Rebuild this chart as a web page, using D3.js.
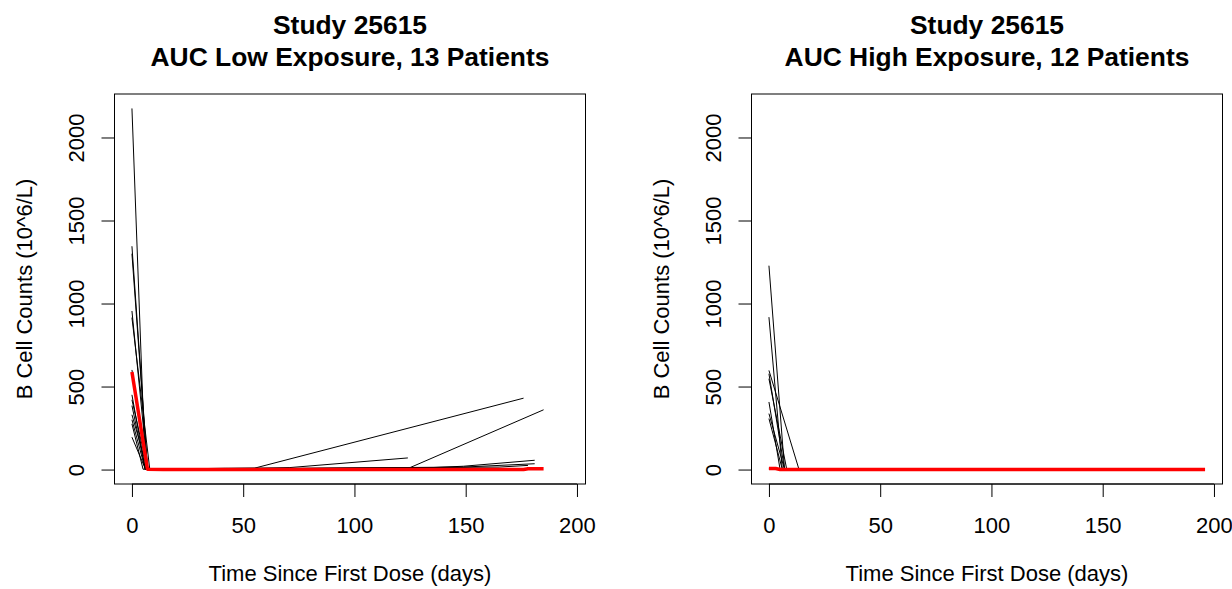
<!DOCTYPE html>
<html>
<head>
<meta charset="utf-8">
<script src="https://cdn.jsdelivr.net/npm/d3@7/dist/d3.min.js"></script>
<style>
  html, body { margin: 0; padding: 0; background: #fff; }
  svg { display: block; }
  text { font-family: "Liberation Sans", Arial, sans-serif; fill: #000; }
</style>
</head>
<body>
<svg id="chart" width="1232" height="589"></svg>
<script>
// ---------------- DATA ----------------
const studyTitle = "Study 25615";
const panelTitles = ["AUC Low Exposure, 13 Patients", "AUC High Exposure, 12 Patients"];
const xLabel = "Time Since First Dose (days)";
const yLabel = "B Cell Counts (10^6/L)";
const xTicks = [0, 50, 100, 150, 200];
const yTicks = [0, 500, 1000, 1500, 2000];
const xMax = 196;
const yMax = 2175;

// Low exposure patients: [day, count]
const low01 = [[0, 2175], [6, 2], [14, 1], [42, 2]];
const low02 = [[0, 1345], [7, 3], [14, 1]];
const low03 = [[0, 1300], [7, 3], [14, 2], [42, 8], [55, 8], [176, 430]];
const low04 = [[0, 955], [7, 4], [14, 1]];
const low05 = [[0, 915], [8, 3], [14, 1], [42, 6], [71, 12], [124, 70]];
const low06 = [[0, 600], [7, 2], [14, 1], [124, 6], [185, 360]];
const low07 = [[0, 450], [6, 3], [14, 1], [135, 12], [149, 20], [181, 56]];
const low08 = [[0, 385], [6, 2], [14, 1], [149, 15], [181, 35]];
const low09 = [[0, 330], [7, 1], [14, 2]];
const low10 = [[0, 300], [6, 1], [14, 1], [165, 15], [178, 25]];
const low11 = [[0, 275], [5, 2], [14, 1]];
const low12 = [[0, 195], [6, 5], [14, 2]];
const low13 = [[0, 420], [7, 3], [14, 1]];
const lowSummary = [[0, 587], [7, 2], [14, 1], [42, 0], [84, 0], [124, 0], [176, 0], [178, 5], [185, 5]];

// High exposure patients: [day, count]
const high01 = [[0, 1228], [7, 2], [14, 0]];
const high02 = [[0, 918], [6, 1], [14, 0]];
const high03 = [[0, 597], [13.5, 1], [21, 0]];
const high04 = [[0, 577], [7, 2]];
const high05 = [[0, 547], [8, 1]];
const high06 = [[0, 407], [5, 1]];
const high07 = [[0, 337], [7, 1]];
const high08 = [[0, 307], [6, 2]];
const high09 = [[0, 10], [7, 0]];
const high10 = [[0, 5], [7, 0]];
const high11 = [[0, 3], [14, 0]];
const high12 = [[0, 2], [7, 0]];
const highSummary = [[0, 6], [3, 6], [5, 0], [14, 0], [56, 0], [112, 0], [168, 0], [196, 0]];

const lowPatients = [low01, low02, low03, low04, low05, low06, low07, low08, low09, low10, low11, low12, low13];
const highPatients = [high01, high02, high03, high04, high05, high06, high07, high08, high09, high10, high11, high12];

// ---------------- LAYOUT ----------------
const svg = d3.select("#chart");
const panels = [
  { left: 114.5, right: 585.5, title: panelTitles[0], patients: lowPatients, summary: lowSummary },
  { left: 751.5, right: 1222.5, title: panelTitles[1], patients: highPatients, summary: highSummary }
];
const boxTop = 94, boxBottom = 484;
const fontBase = 22;
const tickLen = 13;

panels.forEach(p => {
  const x = d3.scaleLinear().domain([-0.04 * xMax, 1.04 * xMax]).range([p.left, p.right]);
  const y = d3.scaleLinear().domain([-0.04 * yMax, 1.04 * yMax]).range([boxBottom, boxTop]);
  const g = svg.append("g");

  const line = d3.line().x(d => x(d[0])).y(d => y(d[1]));

  // patient lines
  g.selectAll("path.pt").data(p.patients).join("path")
    .attr("class", "pt")
    .attr("d", line)
    .attr("fill", "none")
    .attr("stroke", "#000")
    .attr("stroke-width", 1);

  // summary red line
  g.append("path")
    .attr("d", line(p.summary))
    .attr("fill", "none")
    .attr("stroke", "#ff0000")
    .attr("stroke-width", 3.5)
    .attr("stroke-linejoin", "round");

  // box
  g.append("rect")
    .attr("x", p.left).attr("y", boxTop)
    .attr("width", p.right - p.left).attr("height", boxBottom - boxTop)
    .attr("fill", "none").attr("stroke", "#000").attr("stroke-width", 1);

  // x axis
  const xAxis = d3.axisBottom(x).tickValues(xTicks).tickSize(tickLen).tickFormat(d3.format("d"));
  const gx = g.append("g").attr("transform", `translate(0,${boxBottom})`).call(xAxis);
  gx.select(".domain").attr("d", `M${x(xTicks[0])},0H${x(xTicks[xTicks.length - 1])}`);
  gx.selectAll("text").attr("font-size", fontBase).attr("font-family", "Liberation Sans, Arial, sans-serif")
    .attr("dy", null).attr("y", 49);

  // y axis
  const yAxis = d3.axisLeft(y).tickValues(yTicks).tickSize(tickLen).tickFormat(d3.format("d"));
  const gy = g.append("g").attr("transform", `translate(${p.left},0)`).call(yAxis);
  gy.select(".domain").attr("d", `M0,${y(yTicks[0])}V${y(yTicks[yTicks.length - 1])}`);
  gy.selectAll(".tick text")
    .attr("font-size", fontBase).attr("font-family", "Liberation Sans, Arial, sans-serif")
    .attr("x", null).attr("dy", null)
    .attr("text-anchor", "middle")
    .attr("transform", "translate(-31,0) rotate(-90)");

  const cx = (p.left + p.right) / 2;
  // titles
  g.append("text").attr("x", cx).attr("y", 34).attr("text-anchor", "middle")
    .attr("font-size", fontBase * 1.2).attr("font-weight", "bold").text(studyTitle);
  g.append("text").attr("x", cx).attr("y", 66).attr("text-anchor", "middle")
    .attr("font-size", fontBase * 1.2).attr("font-weight", "bold").text(p.title);

  // axis labels
  g.append("text").attr("x", cx).attr("y", 581).attr("text-anchor", "middle")
    .attr("font-size", fontBase).text(xLabel);
  g.append("text")
    .attr("transform", `translate(${p.left - 83},${(boxTop + boxBottom) / 2}) rotate(-90)`)
    .attr("text-anchor", "middle").attr("font-size", fontBase).text(yLabel);
});
</script>
</body>
</html>
